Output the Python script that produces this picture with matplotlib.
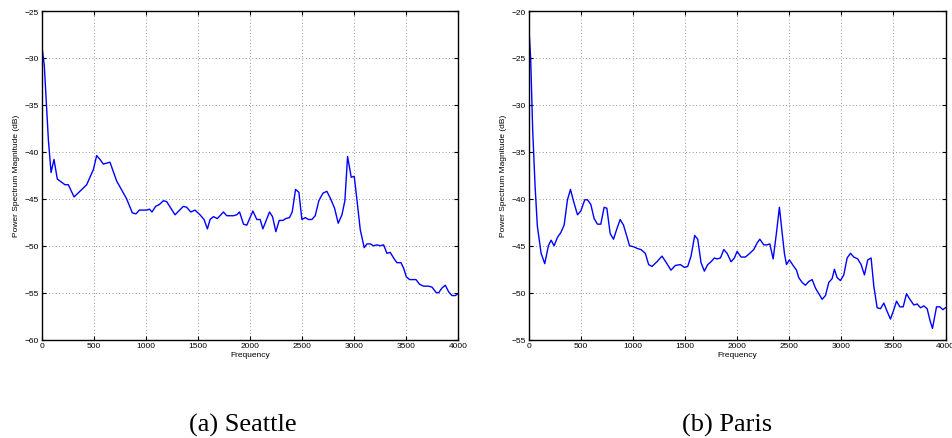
import matplotlib
matplotlib.use("Agg")
import matplotlib.pyplot as plt
import numpy as np

# Seattle spectrum
seattle_freq = [0, 25, 64, 90, 118, 150, 224, 256, 311, 432, 496, 528, 560, 592, 656, 720, 816, 871,
                906, 938, 1009, 1035, 1060, 1095, 1131, 1169, 1201, 1281, 1361, 1393, 1432, 1473, 1521,
                1560, 1592, 1618, 1650, 1688, 1746, 1778, 1842, 1874, 1901, 1939, 1971, 2029, 2067,
                2099, 2125, 2189, 2218, 2250, 2282, 2317, 2346, 2381, 2407, 2439, 2471, 2500, 2532,
                2564, 2596, 2628, 2663, 2702, 2740, 2772, 2814, 2849, 2885, 2913, 2939, 2974, 3003,
                3029, 3061, 3099, 3125, 3157, 3189, 3221, 3253, 3285, 3317, 3349, 3381, 3413, 3452,
                3478, 3503, 3535, 3574, 3596, 3631, 3670, 3718, 3750, 3792, 3814, 3846, 3878, 3910,
                3942, 3974, 4000]
seattle_db = [-28.6, -30.8, -38.7, -42.2, -40.8, -42.9, -43.5, -43.5, -44.8, -43.5, -41.9, -40.4,
              -40.8, -41.3, -41.1, -43.1, -45.0, -46.5, -46.6, -46.2, -46.2, -46.1, -46.4, -45.8,
              -45.6, -45.2, -45.3, -46.7, -45.8, -45.9, -46.4, -46.2, -46.7, -47.2, -48.2, -47.2,
              -46.9, -47.1, -46.4, -46.8, -46.8, -46.7, -46.4, -47.7, -47.8, -46.3, -47.2, -47.2,
              -48.2, -46.4, -46.9, -48.5, -47.3, -47.3, -47.1, -47.0, -46.4, -44.0, -44.3, -47.2,
              -47.0, -47.2, -47.2, -46.8, -45.2, -44.4, -44.2, -44.9, -46.0, -47.6, -46.7, -45.2,
              -40.5, -42.7, -42.6, -45.1, -48.3, -50.2, -49.8, -49.8, -50.0, -49.9, -50.0, -49.9,
              -50.8, -50.7, -51.3, -51.8, -51.8, -52.4, -53.3, -53.6, -53.6, -53.6, -54.1, -54.3,
              -54.3, -54.4, -55.0, -55.0, -54.5, -54.2, -54.9, -55.3, -55.3, -55.1]

# Paris spectrum
paris_freq = [0, 19, 38, 61, 83, 119, 154, 189, 215, 244, 276, 308, 340, 372, 401, 429, 468, 500,
              538, 564, 596, 628, 660, 692, 724, 750, 782, 814, 846, 878, 910, 942, 968, 1006, 1045,
              1077, 1119, 1151, 1183, 1231, 1279, 1321, 1365, 1407, 1455, 1494, 1526, 1558, 1593,
              1622, 1654, 1686, 1718, 1750, 1782, 1808, 1840, 1872, 1904, 1942, 1974, 2000, 2038,
              2080, 2122, 2160, 2192, 2218, 2256, 2288, 2314, 2346, 2378, 2406, 2432, 2454, 2474,
              2502, 2538, 2570, 2592, 2624, 2656, 2688, 2720, 2752, 2784, 2816, 2848, 2880, 2912,
              2934, 2960, 2992, 3024, 3056, 3088, 3120, 3158, 3190, 3222, 3254, 3286, 3312, 3344,
              3376, 3408, 3440, 3472, 3504, 3530, 3562, 3594, 3626, 3658, 3696, 3728, 3760, 3792,
              3824, 3850, 3875, 3914, 3946, 3974, 4000]
paris_db = [-21.4, -25.1, -32.6, -38.6, -42.9, -45.8, -46.9, -45.0, -44.4, -45.0, -44.1, -43.6,
            -42.8, -40.1, -39.0, -40.2, -41.7, -41.3, -40.1, -40.1, -40.6, -42.1, -42.7, -42.7,
            -40.9, -41.0, -43.7, -44.3, -43.2, -42.2, -42.8, -44.0, -45.0, -45.1, -45.3, -45.4,
            -45.8, -47.0, -47.2, -46.7, -46.1, -46.8, -47.6, -47.1, -47.0, -47.3, -47.2, -46.1,
            -43.9, -44.3, -46.8, -47.7, -47.0, -46.7, -46.3, -46.4, -46.3, -45.4, -45.8, -46.7,
            -46.3, -45.6, -46.2, -46.2, -45.8, -45.4, -44.7, -44.3, -44.9, -44.9, -44.8, -46.4,
            -43.6, -40.9, -43.6, -45.8, -47.0, -46.5, -47.1, -47.6, -48.4, -48.9, -49.2, -48.8,
            -48.6, -49.5, -50.1, -50.7, -50.3, -48.9, -48.5, -47.5, -48.4, -48.7, -48.1, -46.3,
            -45.8, -46.2, -46.4, -47.0, -48.1, -46.5, -46.3, -49.3, -51.6, -51.7, -51.1, -52.0,
            -52.8, -51.8, -50.9, -51.5, -51.5, -50.1, -50.7, -51.3, -51.2, -51.6, -51.4, -51.7,
            -52.9, -53.8, -51.5, -51.5, -51.8, -51.6]

x_ticks = [0, 500, 1000, 1500, 2000, 2500, 3000, 3500, 4000]
seattle_yticks = [-60, -55, -50, -45, -40, -35, -30, -25]
paris_yticks = [-55, -50, -45, -40, -35, -30, -25, -20]
captions = ["(a) Seattle", "(b) Paris"]

plt.rcParams['font.family'] = ['Liberation Sans', 'DejaVu Sans']

fig = plt.figure(figsize=(9.52, 4.39), dpi=100)
ax1 = fig.add_axes([41.7 / 952, 1 - 340.7 / 439, 416.3 / 952, 328.7 / 439])
ax2 = fig.add_axes([528.7 / 952, 1 - 340.7 / 439, 416.8 / 952, 328.7 / 439])

for ax, fx, fy, yt, cap, cx in [(ax1, seattle_freq, seattle_db, seattle_yticks, captions[0], 243 / 952),
                                (ax2, paris_freq, paris_db, paris_yticks, captions[1], 727.5 / 952)]:
    ax.plot(fx, fy, color='#0000ff', lw=1.0)
    ax.set_xlim(0, 4000)
    ax.set_ylim(yt[0], yt[-1])
    ax.set_xticks(x_ticks)
    ax.set_yticks(yt)
    ax.set_xticklabels([str(v) for v in x_ticks])
    ax.set_yticklabels([("\u2212" + str(-v)) if v < 0 else str(v) for v in yt])
    ax.tick_params(direction='in', length=3, width=0.8, labelsize=6, pad=2,
                   top=True, right=True, colors='black')
    ax.grid(True, linestyle=(0, (1, 3)), color='0.45', lw=0.6)
    for sp in ax.spines.values():
        sp.set_linewidth(1.0)
        sp.set_color('black')
    ax.set_xlabel('Frequency', fontsize=6, labelpad=1)
    ax.set_ylabel('Power Spectrum Magnitude (dB)', fontsize=6, labelpad=3)
    fig.text(cx, 1 - 425 / 439, cap, ha='center', va='center', fontsize=19,
             family=['Liberation Serif', 'DejaVu Serif'])

fig.savefig('out.png', dpi=100)
